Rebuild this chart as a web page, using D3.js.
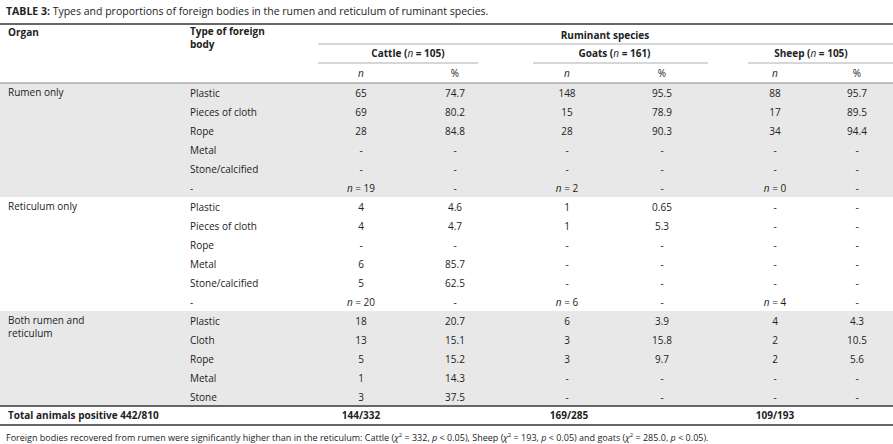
<!DOCTYPE html>
<html><head><meta charset="utf-8">
<script src="https://cdn.jsdelivr.net/npm/d3@7"></script>
<style>
body{margin:0;background:#fff}
svg text{font-family:"Open Sans","DejaVu Sans",sans-serif;font-size:10px;fill:#222}
</style></head><body>
<svg id="t" width="893" height="444"></svg>
<script>
// table content
const groups = ['Rumen only', 'Reticulum only', 'Both rumen and\nreticulum'];
const types = [
  ['Plastic', 'Pieces of cloth', 'Rope', 'Metal', 'Stone/calcified', '-'],
  ['Plastic', 'Pieces of cloth', 'Rope', 'Metal', 'Stone/calcified', '-'],
  ['Plastic', 'Cloth', 'Rope', 'Metal', 'Stone']
];
const cattle = [
  [['65','74.7'],['69','80.2'],['28','84.8'],['-','-'],['-','-'],['n = 19','-']],
  [['4','4.6'],['4','4.7'],['-','-'],['6','85.7'],['5','62.5'],['n = 20','-']],
  [['18','20.7'],['13','15.1'],['5','15.2'],['1','14.3'],['3','37.5']]
];
const goats = [
  [['148','95.5'],['15','78.9'],['28','90.3'],['-','-'],['-','-'],['n = 2','-']],
  [['1','0.65'],['1','5.3'],['-','-'],['-','-'],['-','-'],['n = 6','-']],
  [['6','3.9'],['3','15.8'],['3','9.7'],['-','-'],['-','-']]
];
const sheep = [
  [['88','95.7'],['17','89.5'],['34','94.4'],['-','-'],['-','-'],['n = 0','-']],
  [['-','-'],['-','-'],['-','-'],['-','-'],['-','-'],['n = 4','-']],
  [['4','4.3'],['2','10.5'],['2','5.6'],['-','-'],['-','-']]
];
const species = ['Cattle', 'Goats', 'Sheep'];
const speciesN = [105, 161, 105];
const totals = ['144/332', '169/285', '109/193'];

const svg = d3.select('#t');
const rowH = 19, bodyTop = 83;
const colX = [361, 455, 567, 662, 775, 857];
const spanX = [[318, 478], [533, 708], [748, 893]];

// title
const title = svg.append('text').attr('x', 6).attr('y', 15).style('font-size', '10.5px');
title.append('tspan').attr('font-weight', 'bold').text('TABLE 3:');
title.append('tspan').text(' Types and proportions of foreign bodies in the rumen and reticulum of ruminant species.');

const line = (x1, x2, y, w, c) => svg.append('line').attr('x1', x1).attr('x2', x2)
  .attr('y1', y).attr('y2', y).attr('stroke', c || '#555').attr('stroke-width', w);

// backgrounds
let y = bodyTop;
const data = [];
types.forEach((ts, g) => {
  const y0 = y;
  ts.forEach((t, i) => {
    data.push({g, i, t, y: y + rowH / 2 + 4, c: cattle[g][i], go: goats[g][i], s: sheep[g][i]});
    y += rowH;
  });
  if (g !== 1) svg.insert('rect', ':first-child').attr('x', 0).attr('y', y0).attr('width', 893)
    .attr('height', y - y0).attr('fill', '#e8e8e8');
});
const bodyEnd = y;

line(0, 893, 24, 2, '#666');
line(0, 893, bodyTop, 1, '#888');
line(0, 893, bodyEnd, 2, '#666');
line(0, 893, bodyEnd + 19, 2, '#666');
line(318, 893, 44, 0.8, '#999');
spanX.forEach(s => line(s[0], s[1], 63, 0.8, '#999'));

// headers
const bold = (x, yy, s, anchor) => svg.append('text').attr('x', x).attr('y', yy)
  .attr('font-weight', 'bold').attr('text-anchor', anchor || 'start').text(s);
bold(8, 36, 'Organ');
bold(190, 35, 'Type of foreign');
bold(190, 48, 'body');
bold(605, 39, 'Ruminant species', 'middle');
species.forEach((sp, k) => {
  const t = svg.append('text').attr('x', (colX[2 * k] + colX[2 * k + 1]) / 2 + (k === 2 ? -5 : 0)).attr('y', 57)
    .attr('font-weight', 'bold').attr('text-anchor', 'middle');
  t.append('tspan').text(sp + ' (');
  t.append('tspan').attr('font-style', 'italic').attr('font-weight', 'normal').text('n');
  t.append('tspan').text(' = ' + speciesN[k] + ')');
  svg.append('text').attr('x', colX[2 * k]).attr('y', 77).attr('text-anchor', 'middle')
    .attr('font-style', 'italic').text('n');
  svg.append('text').attr('x', colX[2 * k + 1]).attr('y', 77).attr('text-anchor', 'middle').text('%');
});

// group labels
let gy = bodyTop;
groups.forEach((g, k) => {
  g.split('\n').forEach((s, j) => svg.append('text').attr('x', 8).attr('y', gy + 13 + j * 13).text(s));
  gy += types[k].length * rowH;
});

// body rows
const rows = svg.selectAll('g.row').data(data).join('g').attr('class', 'row');
rows.append('text').attr('x', 190).attr('y', d => d.y).text(d => d.t);
rows.each(function (d) {
  const vals = [...d.c, ...d.go, ...d.s];
  d3.select(this).selectAll('text.v').data(vals).join('text').attr('class', 'v')
    .attr('x', (v, j) => colX[j]).attr('y', d.y).attr('text-anchor', 'middle')
    .each(function (v) {
      const el = d3.select(this);
      if (v.startsWith('n =')) {
        el.append('tspan').attr('font-style', 'italic').text('n');
        el.append('tspan').text(v.slice(1));
      } else el.text(v);
    });
});

// totals
bold(8, bodyEnd + 13, 'Total animals positive 442/810');
totals.forEach((t, k) => bold(colX[2 * k] + (k === 1 ? 2 : 0), bodyEnd + 13, t, 'middle'));

// footnote
const fn = svg.append('text').attr('x', 6).attr('y', bodyEnd + 35).style('font-size', '9px');
const parts = [['Foreign bodies recovered from rumen were significantly higher than in the reticulum: Cattle (', 0],
  ['χ', 1], ['2', 2], [' = 332, ', 0], ['p', 1], [' < 0.05), Sheep (', 0], ['χ', 1], ['2', 2], [' = 193, ', 0], ['p', 1],
  [' < 0.05) and goats (', 0], ['χ', 1], ['2', 2], [' = 285.0, ', 0], ['p', 1], [' < 0.05).', 0]];
parts.forEach(([s, k]) => {
  const ts = fn.append('tspan').text(s);
  if (k === 1) ts.attr('font-style', 'italic');
  if (k === 2) ts.attr('dy', -4).style('font-size', '6px');
  if (k === 0 && s.startsWith(' =')) ts.attr('dy', 4);
});
</script></body></html>
